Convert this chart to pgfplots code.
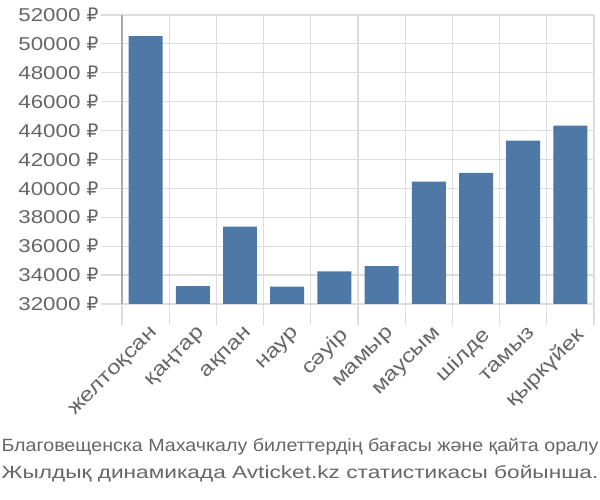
\documentclass[border=0pt]{standalone}
\usepackage{pgfplots}
\pgfplotsset{compat=1.18}
\usepackage{fontspec}
\setmainfont{Liberation Sans}
\newfontfamily\tickfont[FakeStretch=1.2]{Liberation Sans}
\newfontfamily\rubfont{DejaVu Sans}
\newfontfamily\titlefont[FakeStretch=1.11]{Liberation Sans}
\newfontfamily\titlefontb[FakeStretch=1.28]{Liberation Sans}
\definecolor{barblue}{RGB}{78,121,167}
\definecolor{gridgray}{RGB}{221,221,221}
\definecolor{axgray}{RGB}{170,170,170}
\definecolor{txtgray}{RGB}{102,102,102}
\begin{document}
\begin{tikzpicture}[x=1bp,y=1bp]
\useasboundingbox (0,0) rectangle (600,500);
\begin{axis}[
  at={(122bp,196bp)}, anchor=south west,
  scale only axis, width=472bp, height=289bp,
  xmin=-0.5, xmax=9.5, ymin=32000, ymax=52000,
  axis x line*=bottom, axis y line*=left,
  x axis line style={-, draw=gridgray, line width=1.2bp},
  y axis line style={-, draw=axgray, line width=1.2bp},
  tick align=outside,
  major tick length=21bp,
  xtick={-0.5,0.5,...,9.5},
  xticklabels={},
  xmajorgrids, ymajorgrids,
  grid style={draw=gridgray, line width=1.2bp},
  tick style={draw=gridgray, line width=1.2bp},
  ytick={32000,34000,...,52000},
  scaled y ticks=false,
  yticklabel={\pgfmathprintnumber[assume math mode=true,1000 sep={}]{\tick}~{\rubfont ₽}},
  yticklabel style={font=\tickfont\fontsize{18.6bp}{22bp}\selectfont, text=txtgray, xshift=1bp},
  extra x ticks={0,1,2,3,4,5,6,7,8,9},
  extra x tick labels={желтоқсан,қаңтар,ақпан,наур,сәуір,мамыр,маусым,шілде,тамыз,қыркүйек},
  extra x tick style={major tick length=0pt, grid=none,
     xticklabel style={rotate=45, anchor=north east, font=\tickfont\fontsize{20bp}{24bp}\selectfont, text=txtgray, xshift=-9bp, yshift=-15bp}},
]
\addplot[ybar, bar width=0.72, fill=barblue, draw=none] coordinates {
 (0,50530) (1,33230) (2,37350) (3,33210) (4,34250) (5,34620) (6,40460) (7,41070) (8,43310) (9,44350)
};
\end{axis}
\node[text=txtgray, font=\titlefont\fontsize{17.7bp}{21bp}\selectfont] at (300,53) {Благовещенска Махачкалу билеттердің бағасы және қайта оралу};
\node[text=txtgray, font=\titlefontb\fontsize{17.7bp}{21bp}\selectfont] at (300,26) {Жылдық динамикада Avticket.kz статистикасы бойынша.};
\end{tikzpicture}
\end{document}
